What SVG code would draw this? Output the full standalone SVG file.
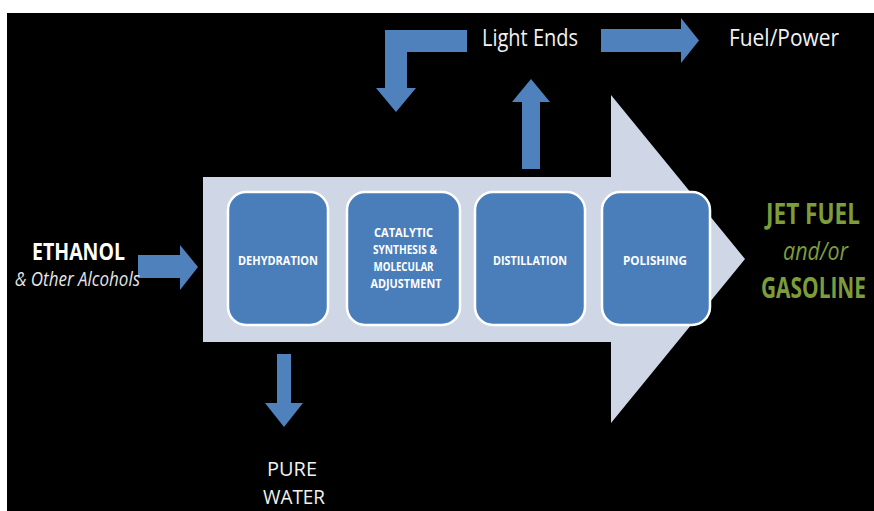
<svg xmlns="http://www.w3.org/2000/svg" width="874" height="511" viewBox="0 0 874 511">
<style>
.arr{fill:#4f81bd;}
.box{fill:#4a7ebb;stroke:#ffffff;stroke-width:2.5;}
.bt{font-family:"Open Sans","Liberation Sans",sans-serif;font-weight:bold;font-size:13px;fill:#ffffff;text-anchor:middle;}
.wt{font-family:"Open Sans","Liberation Sans",sans-serif;font-size:23px;fill:#f2f2f2;}
.pw{font-family:"Open Sans","Liberation Sans",sans-serif;font-size:20px;fill:#f2f2f2;}
.gt{font-family:"Open Sans","Liberation Sans",sans-serif;font-weight:bold;font-size:28px;fill:#7d9c3a;}
</style>
<rect x="0" y="0" width="874" height="511" fill="#ffffff"/>
<rect x="7" y="13" width="867" height="498" fill="#000000"/>
<g id="main-arrow">
<polygon points="203,177 611,177 611,95 745,259 611,423 611,342 203,342" fill="#cfd7e7"/>
</g>
<g id="connectors">
<polygon class="arr" points="467,30 385,30 385,88 376,88 396,112 416,88 407,88 407,52 467,52"/>
<polygon class="arr" points="601,29 681,29 681,18 699,40.5 681,63 681,52 601,52"/>
<polygon class="arr" points="522,169 522,102 512,102 531,79 550,102 540,102 540,169"/>
<polygon class="arr" points="138,255 180,255 180,245 198,267 180,290 180,278 138,278"/>
<polygon class="arr" points="277,354 291,354 291,403 303,403 284,427 265,403 277,403"/>
</g>
<g id="dehydration">
<rect class="box" x="228" y="192" width="100" height="133" rx="18"/>
<text class="bt" x="278" y="265" textLength="80" lengthAdjust="spacingAndGlyphs">DEHYDRATION</text>
</g>
<g id="catalytic">
<rect class="box" x="347" y="192" width="113" height="133" rx="18"/>
<text class="bt" x="403.5" y="237" textLength="59" lengthAdjust="spacingAndGlyphs">CATALYTIC</text>
<text class="bt" x="405" y="254" textLength="64" lengthAdjust="spacingAndGlyphs">SYNTHESIS &amp;</text>
<text class="bt" x="403.5" y="271" textLength="60" lengthAdjust="spacingAndGlyphs">MOLECULAR</text>
<text class="bt" x="406" y="288" textLength="71" lengthAdjust="spacingAndGlyphs">ADJUSTMENT</text>
</g>
<g id="distillation">
<rect class="box" x="475" y="192" width="110" height="133" rx="18"/>
<text class="bt" x="530" y="265" textLength="74" lengthAdjust="spacingAndGlyphs">DISTILLATION</text>
</g>
<g id="polishing">
<rect class="box" x="602" y="192" width="108" height="133" rx="18"/>
<text class="bt" x="655" y="265" textLength="64" lengthAdjust="spacingAndGlyphs">POLISHING</text>
</g>
<g id="light-ends">
<text class="wt" x="482" y="46" textLength="96" lengthAdjust="spacingAndGlyphs">Light Ends</text>
</g>
<g id="fuel-power">
<text class="wt" x="729" y="46" textLength="110" lengthAdjust="spacingAndGlyphs">Fuel/Power</text>
</g>
<g id="ethanol">
<text x="32" y="260" font-family="'Open Sans','Liberation Sans',sans-serif" font-weight="bold" font-size="23" fill="#ffffff" textLength="93" lengthAdjust="spacingAndGlyphs">ETHANOL</text>
<text x="15" y="286" font-family="'Open Sans','Liberation Sans',sans-serif" font-style="italic" font-size="20" fill="#e6e6e6" textLength="125" lengthAdjust="spacingAndGlyphs">&amp; Other Alcohols</text>
</g>
<g id="pure-water">
<text class="pw" x="267" y="476" textLength="50" lengthAdjust="spacingAndGlyphs">PURE</text>
<text class="pw" x="263" y="504" textLength="62" lengthAdjust="spacingAndGlyphs">WATER</text>
</g>
<g id="jet-fuel">
<text class="gt" x="766" y="224" textLength="94" lengthAdjust="spacingAndGlyphs">JET FUEL</text>
<text x="783" y="260" font-family="'Open Sans','Liberation Sans',sans-serif" font-style="italic" font-size="26" fill="#7d9c3a" textLength="65" lengthAdjust="spacingAndGlyphs">and/or</text>
<text class="gt" x="761" y="298" textLength="105" lengthAdjust="spacingAndGlyphs">GASOLINE</text>
</g>
</svg>
